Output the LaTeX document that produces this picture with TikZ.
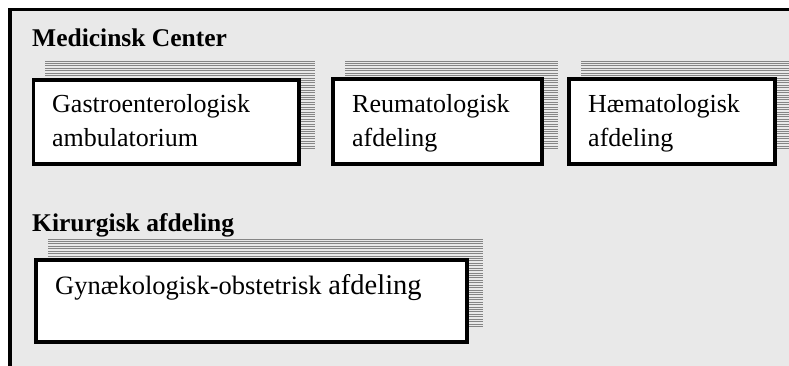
\documentclass[tikz,border=0pt]{standalone}
\usepackage{fontspec}
\setmainfont{Liberation Serif}
\definecolor{panel}{HTML}{E9E9E9}
\definecolor{hatch}{HTML}{858585}
\tikzset{
  frame/.style={draw=black, line width=3.4pt, fill=panel},
  unitbox/.style={draw=black, line width=3.6pt, fill=white},
  head/.style={anchor=base west, inner sep=0pt, font=\fontsize{25.5}{28}\selectfont\bfseries},
  lbl/.style={anchor=base west, inner sep=0pt, align=left, font=\fontsize{26}{33.7}\selectfont},
  hatchline/.style={draw=hatch, line width=0.9pt}
}
\begin{document}
\begin{tikzpicture}[x=1pt,y=-1pt]
\useasboundingbox (0,0) rectangle (789,366);
\clip (0,0) rectangle (789,366);
\fill[white] (0,0) rectangle (789,366);
\path[frame] (10,9.5) rectangle (820,400);
% shadows
\foreach \sa/\sb/\sc/\sd in {45/61/315/148, 345/61/558/148, 581/61/790/148, 48/239/483/326}{
  \begin{scope}
    \clip (\sa,\sb-0.5) rectangle (\sc,\sd+0.5);
    \foreach \k in {0,...,40}{
      \draw[hatchline] (\sa,\sb+2.43*\k) -- (\sc,\sb+2.43*\k);
    }
  \end{scope}
}
% boxes
\node[unitbox, anchor=north west, minimum width=265.5pt, minimum height=84pt, inner sep=0pt] (gastro) at (31.5,78) {};
\node[unitbox, anchor=north west, minimum width=209pt, minimum height=85pt, inner sep=0pt] (reuma) at (331,77) {};
\node[unitbox, anchor=north west, minimum width=206pt, minimum height=85pt, inner sep=0pt] (haema) at (567,77) {};
\node[unitbox, anchor=north west, minimum width=431pt, minimum height=82pt, inner sep=0pt] (gyn) at (34,258) {};
% labels
\node[head] (medc) at (32,47) {Medicinsk Center};
\node[head] (kir) at (32,231.5) {Kirurgisk afdeling};
\node[lbl] (tgastro) at (52,146.7) {Gastroenterologisk\\ambulatorium};
\node[lbl] (treuma) at (352,146.7) {Reumatologisk\\afdeling};
\node[lbl] (thaema) at (588,146.7) {Hæmatologisk\\afdeling};
\node[lbl, font=\fontsize{26.5}{30}\selectfont] (tgyn) at (55,294) {Gynækologisk-obstetrisk {\fontsize{28.5}{30}\selectfont afdeling}};
\end{tikzpicture}
\end{document}
